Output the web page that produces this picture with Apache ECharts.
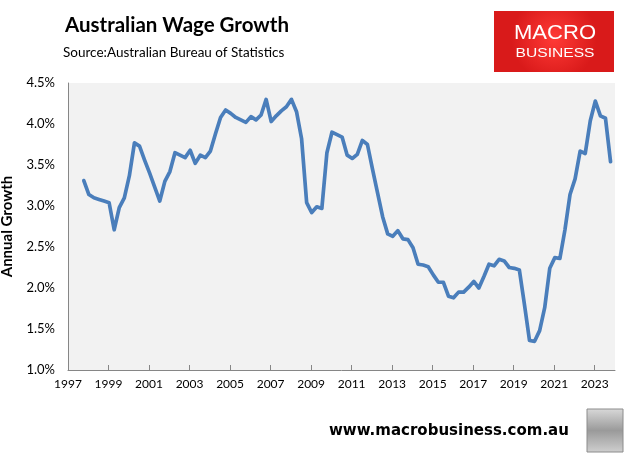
<!DOCTYPE html>
<html>
<head>
<meta charset="utf-8">
<style>
html,body{margin:0;padding:0;background:#fff;}
#chart{width:631px;height:456px;}
</style>
<script src="https://cdn.jsdelivr.net/npm/echarts@6/dist/echarts.min.js"></script>
</head>
<body>
<div id="chart"></div>
<script>
// Quarterly annual wage growth (%), first quarter plotted at startYear
var startYear = 1997.78;
var wageGrowth = [
  3.31, 3.14, 3.10, 3.08, 3.06, 3.04, 2.71, 2.98, 3.10, 3.37,
  3.77, 3.73, 3.56, 3.40, 3.23, 3.06, 3.30, 3.42, 3.65, 3.62,
  3.59, 3.68, 3.52, 3.62, 3.59, 3.67, 3.88, 4.08, 4.17, 4.13,
  4.08, 4.05, 4.02, 4.09, 4.05, 4.11, 4.30, 4.03, 4.10, 4.16,
  4.21, 4.30, 4.15, 3.82, 3.04, 2.92, 2.99, 2.97, 3.65, 3.90,
  3.87, 3.84, 3.62, 3.58, 3.63, 3.80, 3.75, 3.45, 3.16, 2.87,
  2.66, 2.63, 2.70, 2.60, 2.59, 2.49, 2.29, 2.28, 2.26, 2.16,
  2.07, 2.07, 1.90, 1.88, 1.95, 1.95, 2.01, 2.08, 2.00, 2.14,
  2.29, 2.27, 2.35, 2.33, 2.25, 2.24, 2.22, 1.80, 1.36, 1.35,
  1.48, 1.76, 2.24, 2.37, 2.36, 2.71, 3.14, 3.33, 3.67, 3.64,
  4.04, 4.28, 4.10, 4.07, 3.54
];
var xTickYears = [1997, 1999, 2001, 2003, 2005, 2007, 2009, 2011, 2013, 2015, 2017, 2019, 2021, 2023];
var titleText = 'Australian Wage Growth';
var sourceText = 'Source:Australian Bureau of Statistics';
var yAxisName = 'Annual Growth';
var footerText = 'www.macrobusiness.com.au';

var seriesData = wageGrowth.map(function (v, i) { return [startYear + i * 0.25, v]; });

var chart = echarts.init(document.getElementById('chart'), null, {renderer: 'canvas'});
var font = 'Lato, "Open Sans", sans-serif';
chart.setOption({
  animation: false,
  backgroundColor: '#ffffff',
  grid: {
    left: 68, right: 16, top: 83, bottom: 86,
    containLabel: false,
    outerBoundsMode: 'none',
    show: true, backgroundColor: '#f2f2f2', borderWidth: 0
  },
  xAxis: {
    type: 'value',
    min: 1997, max: 2024,
    axisLine: {show: true, lineStyle: {color: '#868686', width: 1}},
    axisTick: {show: true, inside: true, length: 5, customValues: xTickYears.slice(1), lineStyle: {color: '#868686'}},
    axisLabel: {customValues: xTickYears, color: '#000', fontFamily: font, fontSize: 12, margin: 8,
      formatter: function (v) { return String(Math.round(v)); }},
    splitLine: {show: false}
  },
  yAxis: {
    type: 'value',
    min: 1.0, max: 4.5, interval: 0.5,
    name: yAxisName,
    nameLocation: 'middle',
    nameGap: 53,
    nameTextStyle: {color: '#000', fontFamily: font, fontSize: 15, fontWeight: 'bold'},
    axisLine: {show: true, lineStyle: {color: '#868686', width: 1}},
    axisTick: {show: false},
    axisLabel: {color: '#000', fontFamily: font, fontSize: 13, margin: 13,
      formatter: function (v) { return v.toFixed(1) + '%'; }},
    splitLine: {show: false}
  },
  series: [{
    type: 'line',
    data: seriesData,
    showSymbol: false,
    symbol: 'none',
    lineStyle: {color: '#4a7ebb', width: 3.7, join: 'round', cap: 'round'},
    z: 3
  }],
  graphic: [
    {type: 'text', left: 65, top: 15, style: {text: titleText, fill: '#000', font: 'bold 20.5px ' + font}},
    {type: 'text', left: 63, top: 46, style: {text: sourceText, fill: '#000', font: '13.5px ' + font}},
    {type: 'rect', shape: {x: 494, y: 11, width: 120, height: 61},
      style: {fill: new echarts.graphic.RadialGradient(0.5, 0.45, 0.7, [
        {offset: 0, color: '#ff3a36'}, {offset: 1, color: '#d91a1a'}])}},
    {type: 'text', x: 555, y: 33, scaleX: 1.05, style: {text: 'MACRO', fill: '#fff', font: '21px "Liberation Sans", sans-serif', align: 'center', verticalAlign: 'middle'}},
    {type: 'text', x: 555, y: 54, scaleX: 1.3, style: {text: 'BUSINESS', fill: '#fff', font: '12px "Liberation Sans", sans-serif', align: 'center', verticalAlign: 'middle'}},
    {type: 'text', x: 329, y: 431, style: {text: footerText, fill: '#000', font: 'bold 15px "DejaVu Sans", sans-serif', verticalAlign: 'middle'}},
    {type: 'rect', shape: {x: 587, y: 409, width: 36, height: 43},
      style: {fill: new echarts.graphic.LinearGradient(0, 0, 0, 1, [
        {offset: 0, color: '#d9d9d9'}, {offset: 0.5, color: '#9a9a9a'}, {offset: 1, color: '#cfcfcf'}]),
        stroke: '#8c8c8c', lineWidth: 1}}
  ]
});
</script>
</body>
</html>
